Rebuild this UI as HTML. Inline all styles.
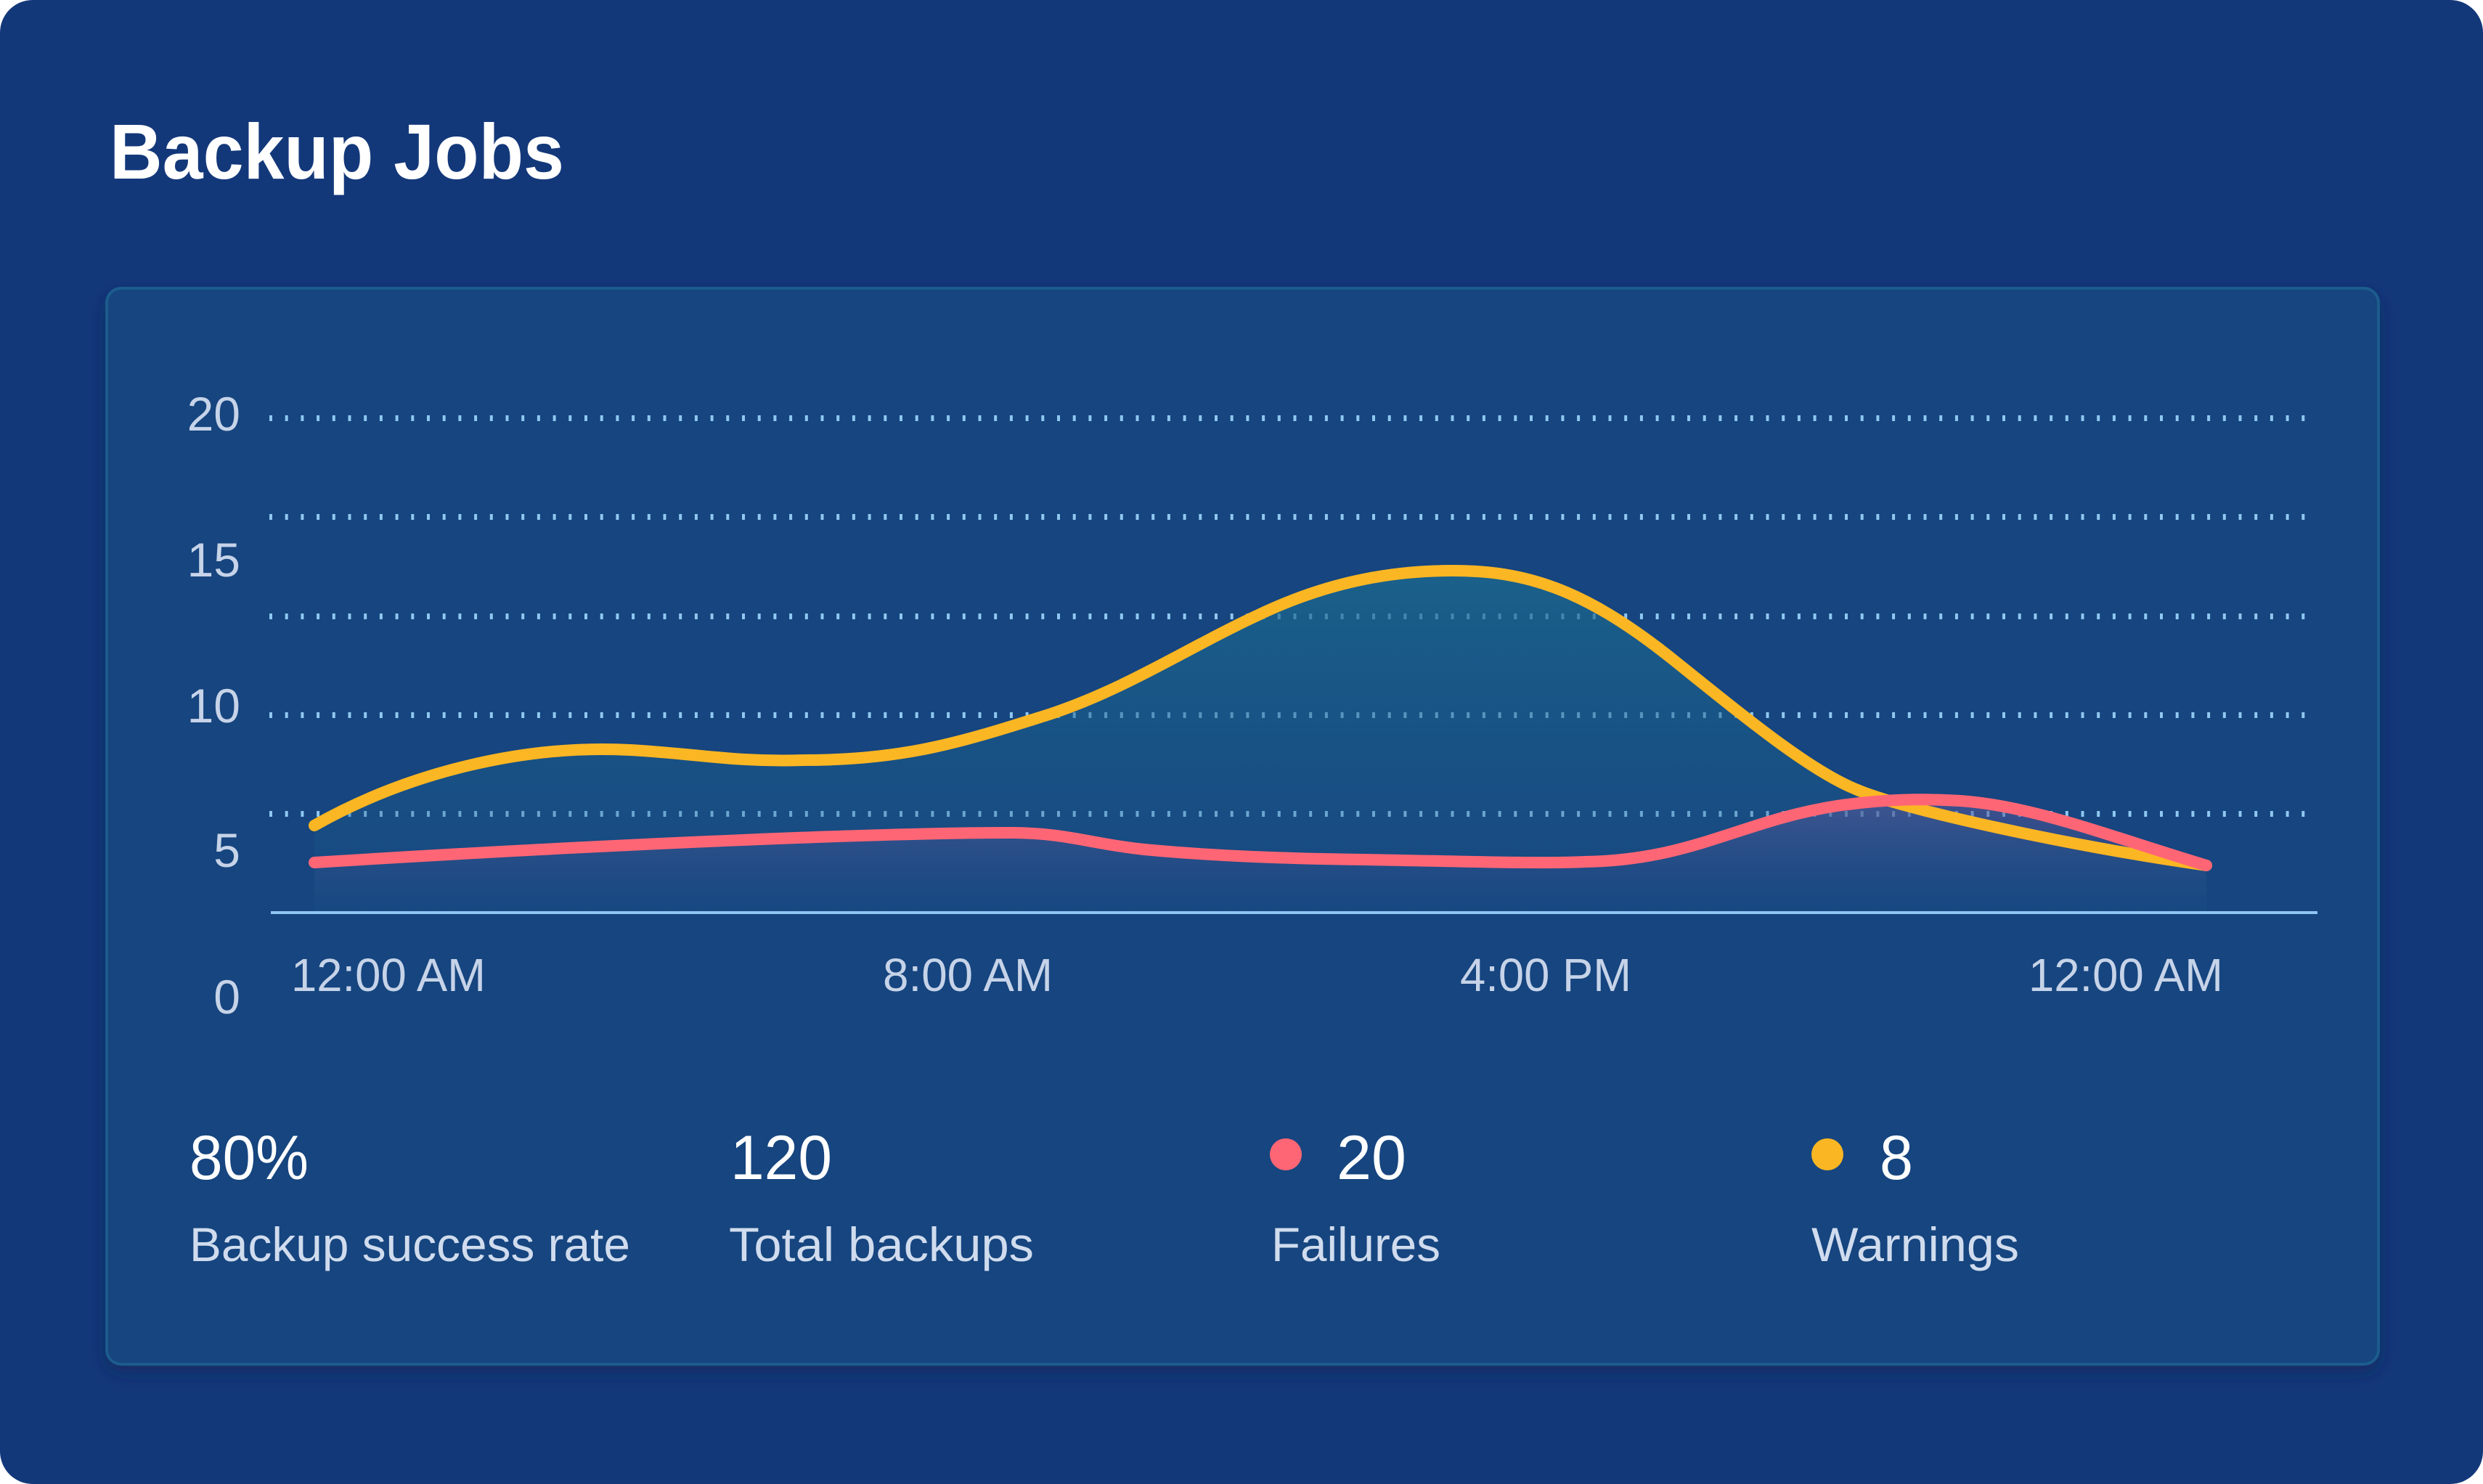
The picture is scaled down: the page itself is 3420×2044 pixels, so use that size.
<!DOCTYPE html>
<html><head><meta charset="utf-8"><style>
html,body{margin:0;padding:0;background:#fff;}
body{width:3420px;height:2044px;overflow:hidden;}
svg{display:block;}
text{font-family:"Liberation Sans",sans-serif;}
</style></head><body>
<svg width="3420" height="2044" viewBox="0 0 3420 2044" xmlns="http://www.w3.org/2000/svg">
<defs>
<linearGradient id="gy" x1="0" y1="786" x2="0" y2="1256" gradientUnits="userSpaceOnUse">
<stop offset="0" stop-color="#1b6a8e" stop-opacity="0.75"/>
<stop offset="1" stop-color="#1b5a8a" stop-opacity="0.15"/>
</linearGradient>
<linearGradient id="gr" x1="0" y1="1103" x2="0" y2="1256" gradientUnits="userSpaceOnUse">
<stop offset="0" stop-color="#5a5a9a" stop-opacity="0.6"/>
<stop offset="1" stop-color="#3a4a8a" stop-opacity="0"/>
</linearGradient>
<filter id="sh" x="-5%" y="-5%" width="110%" height="115%"><feDropShadow dx="0" dy="10" stdDeviation="12" flood-color="#0a2050" flood-opacity="0.5"/></filter>
</defs>
<rect x="0" y="0" width="3420" height="2044" rx="45" fill="#13387a"/>
<text x="151" y="246" font-size="108" font-weight="bold" fill="#ffffff" textLength="626" lengthAdjust="spacingAndGlyphs">Backup Jobs</text>
<rect x="147" y="397" width="3129" height="1482" rx="20" fill="#16447f" stroke="#1b5b8d" stroke-width="4" filter="url(#sh)"/>
<g stroke="#8fc8f0" stroke-width="8" stroke-dasharray="4 17.7">
<line x1="371" y1="576" x2="3192" y2="576"/>
<line x1="371" y1="712" x2="3192" y2="712"/>
<line x1="371" y1="849" x2="3192" y2="849"/>
<line x1="371" y1="985" x2="3192" y2="985"/>
<line x1="371" y1="1121" x2="3192" y2="1121"/>
</g>
<g font-size="66" fill="#c6d3e8" text-anchor="end">
<text x="331" y="593">20</text><text x="331" y="794">15</text><text x="331" y="995">10</text><text x="331" y="1194">5</text><text x="331" y="1396">0</text>
</g>
<path d="M433,1137 C560,1065 720,1025 868,1033 C960,1038 1010,1050 1107,1047 C1250,1047 1330,1020 1442,985 C1550,950 1640,890 1729,849 C1830,800 1920,786 2001,786 C2100,786 2180,810 2300,905 C2400,985 2490,1060 2556,1087 C2620,1115 2850,1165 3039,1192 L3039,1256 L433,1256 Z" fill="url(#gy)"/>
<path d="M433,1188 C800,1165 1200,1147 1390,1147 C1470,1147 1500,1162 1576,1170 C1680,1180 1800,1183 1880,1184 C2000,1186 2120,1190 2183,1187 C2330,1185 2400,1130 2530,1110 C2600,1100 2650,1100 2700,1103 C2800,1110 2900,1150 3039,1192 L3039,1256 L433,1256 Z" fill="url(#gr)"/>
<line x1="373" y1="1257" x2="3192" y2="1257" stroke="#8ec5f2" stroke-width="4"/>
<path d="M433,1137 C560,1065 720,1025 868,1033 C960,1038 1010,1050 1107,1047 C1250,1047 1330,1020 1442,985 C1550,950 1640,890 1729,849 C1830,800 1920,786 2001,786 C2100,786 2180,810 2300,905 C2400,985 2490,1060 2556,1087 C2620,1115 2850,1165 3039,1192" fill="none" stroke="#fbb623" stroke-width="16" stroke-linecap="round"/>
<path d="M433,1188 C800,1165 1200,1147 1390,1147 C1470,1147 1500,1162 1576,1170 C1680,1180 1800,1183 1880,1184 C2000,1186 2120,1190 2183,1187 C2330,1185 2400,1130 2530,1110 C2600,1100 2650,1100 2700,1103 C2800,1110 2900,1150 3039,1192" fill="none" stroke="#ff6675" stroke-width="16" stroke-linecap="round"/>
<g font-size="64" fill="#c6d3e8">
<text x="401" y="1365" textLength="268" lengthAdjust="spacingAndGlyphs">12:00 AM</text>
<text x="1216" y="1365" textLength="234" lengthAdjust="spacingAndGlyphs">8:00 AM</text>
<text x="2011" y="1365" textLength="236" lengthAdjust="spacingAndGlyphs">4:00 PM</text>
<text x="2794" y="1365" textLength="268" lengthAdjust="spacingAndGlyphs">12:00 AM</text>
</g>
<g font-size="86" fill="#ffffff">
<text x="261" y="1624" textLength="164" lengthAdjust="spacingAndGlyphs">80%</text>
<text x="1006" y="1624" textLength="140" lengthAdjust="spacingAndGlyphs">120</text>
<text x="1841" y="1624" textLength="96" lengthAdjust="spacingAndGlyphs">20</text>
<text x="2589" y="1624" textLength="46" lengthAdjust="spacingAndGlyphs">8</text>
</g>
<circle cx="1771" cy="1590" r="22" fill="#ff6675"/>
<circle cx="2517" cy="1590" r="22" fill="#fbb623"/>
<g font-size="66" fill="#d0dcee">
<text x="261" y="1737" textLength="607" lengthAdjust="spacingAndGlyphs">Backup success rate</text>
<text x="1004" y="1737" textLength="420" lengthAdjust="spacingAndGlyphs">Total backups</text>
<text x="1751" y="1737" textLength="233" lengthAdjust="spacingAndGlyphs">Failures</text>
<text x="2495" y="1737" textLength="286" lengthAdjust="spacingAndGlyphs">Warnings</text>
</g>
</svg>
</body></html>
